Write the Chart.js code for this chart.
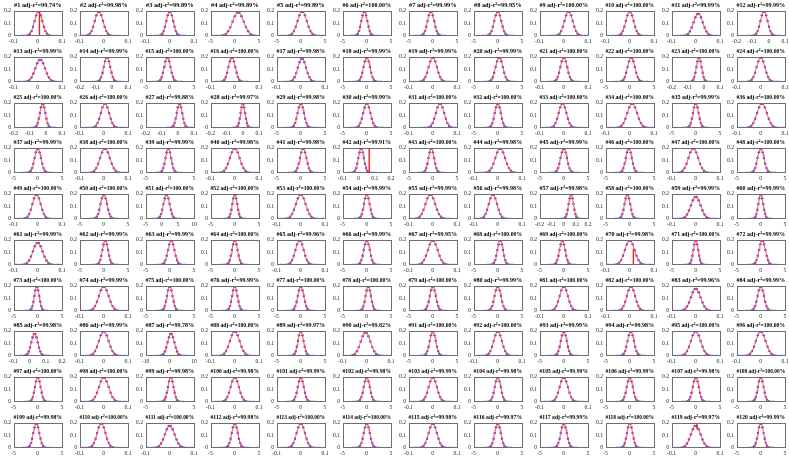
<!DOCTYPE html>
<html>
<head>
<meta charset="utf-8">
<script src="https://cdn.jsdelivr.net/npm/chart.js@4.4.1/dist/chart.umd.min.js"></script>
<style>
  html, body { margin: 0; padding: 0; background: #fff; }
  #wrap { position: relative; width: 789px; height: 458px; overflow: hidden; background: #fff; }
  #wrap canvas { position: absolute; }
</style>
</head>
<body>
<div id="wrap"></div>
<script>
// ---- data ----
const r2Values = [
  "99.74","99.98","99.89","99.89","99.89","100.00","99.99","99.95","100.00","100.00","99.99","99.99",
  "99.99","99.99","100.00","100.00","99.98","99.99","99.99","99.99","100.00","100.00","100.00","100.00",
  "100.00","100.00","99.88","99.97","99.98","99.99","100.00","100.00","100.00","100.00","99.99","100.00",
  "99.99","100.00","99.99","99.98","99.98","99.91","100.00","99.98","99.99","100.00","100.00","100.00",
  "100.00","100.00","100.00","100.00","100.00","99.99","99.99","99.98","99.98","100.00","99.99","99.99",
  "99.99","99.99","99.99","100.00","99.96","99.99","99.95","100.00","100.00","99.98","100.00","99.99",
  "100.00","99.99","100.00","99.99","100.00","100.00","100.00","99.99","100.00","100.00","99.96","99.99",
  "99.98","99.99","99.78","100.00","99.97","99.82","100.00","100.00","99.99","99.98","100.00","100.00",
  "100.00","100.00","99.98","99.98","99.99","99.98","99.99","99.98","99.99","99.99","99.98","100.00",
  "99.98","100.00","100.00","99.98","100.00","100.00","99.98","99.97","99.99","100.00","99.97","99.99"
];
// x-axis ranges: [min, max, tick step]
const xRanges = {
  A: [-0.1, 0.1, 0.1],
  B: [-5, 5, 5],
  C: [-0.2, 0.1, 0.1],
  D: [-0.1, 0.2, 0.1],
  E: [-5, 10, 5],
  F: [-10, 10, 10],
  G: [-0.2, 0.2, 0.1]
};
const rangeCodes = (
  "AAABBBBBAAAC" +
  "ACBAABABABCA" +
  "CACCBBABAABA" +
  "BABABDBABBAB" +
  "ABEBABAAGBAB" +
  "ABBBABABBABB" +
  "BABBBBBBAAAB" +
  "DAFABABABBAA" +
  "BABABBABABBB" +
  "BAABABABBBAB").split("");
// peak centre of each fitted bell (x units)
const centers = [
  0.003,-0.02,0,0.7,0.3,-0.5,-0.4,0,0.02,0,0.01,-0.03,
  0.01,-0.03,-0.5,-0.012,0.005,0,0,0.3,0,0.3,-0.03,0,
  -0.02,0.005,0.01,0,0,0,0.03,0,-0.005,0.01,0,0.005,
  0,0.005,-0.3,0,0.5,0.015,-0.3,0.01,0,-0.2,-0.01,0,
  -0.005,0,1.5,0,0,0,-0.01,-0.02,0.06,-0.5,0,0,
  0,0.3,0.3,0,-0.005,0,0,0.5,-0.3,0,0,0.3,
  -0.2,0,0,0,0,0.3,0,0,0,0.005,0,0,
  0.03,0,0.5,0,0,-0.005,0,0,0,0.2,0,0,
  0,0,0.2,0,0,0,0,0,0,0,0,0,
  -0.3,-0.01,0,0,0,0,0,0,0,0,0,0
];
// spread (x units) of each bell
const spreads = [
  0.016,0.017,0.014,1.15,0.95,0.62,0.68,0.72,0.017,0.016,0.019,0.022,
  0.02,0.02,0.65,0.014,0.017,0.66,0.017,0.74,0.014,0.74,0.016,0.017,
  0.017,0.017,0.017,0.014,0.66,0.74,0.017,0.62,0.016,0.02,0.58,0.02,
  0.66,0.02,0.58,0.02,0.66,0.017,0.58,0.02,0.66,0.62,0.02,0.66,
  0.017,0.66,0.95,0.5,0.02,0.58,0.02,0.017,0.02,0.58,0.02,0.5,
  0.02,0.58,0.66,0.58,0.017,0.62,0.02,0.58,0.58,0.02,0.5,0.66,
  0.5,0.02,0.58,0.55,0.62,0.55,0.62,0.66,0.017,0.017,0.02,0.66,
  0.02,0.02,1.4,0.02,0.58,0.02,0.62,0.017,0.62,0.66,0.02,0.02,
  0.58,0.02,0.58,0.017,0.62,0.62,0.017,0.62,0.017,0.62,0.62,0.58,
  0.62,0.017,0.02,0.62,0.017,0.62,0.017,0.62,0.62,0.58,0.02,0.58
];
// panels whose peak is visibly below 0.2
const lowPeaks = {4:0.19, 11:0.18, 13:0.18, 17:0.19, 59:0.18, 61:0.18, 83:0.18, 85:0.18, 87:0.18, 90:0.19, 111:0.18, 119:0.18};
const defaultPeak = 0.198;
// vertical red marks: panel -> [x, yFrom, yTo]
const vLines = {1:[0.007,0,0.2], 42:[0.065,0,0.2], 70:[0.015,0,0.13], 119:[0.005,0.15,0.2]};
// bell shape: offsets (in spreads) and relative heights
const dotOffsets = [-4.6,-4.2,-3.8,-3.4,-3.0,-2.6,-2.2,-1.8,-1.4,-1.0,-0.6,-0.2,0.2,0.6,1.0,1.4,1.8,2.2,2.6,3.0,3.4,3.8,4.2,4.6];
const dotHeights = [0,0.0001,0.001,0.003,0.011,0.034,0.089,0.198,0.375,0.607,0.835,0.980,0.980,0.835,0.607,0.375,0.198,0.089,0.034,0.011,0.003,0.001,0.0001,0];
const curveOffsets = [-4.75,-4.5,-4.25,-4,-3.75,-3.5,-3.25,-3,-2.75,-2.5,-2.25,-2,-1.75,-1.5,-1.25,-1,-0.75,-0.5,-0.25,0,0.25,0.5,0.75,1,1.25,1.5,1.75,2,2.25,2.5,2.75,3,3.25,3.5,3.75,4,4.25,4.5,4.75];
const curveHeights = [0,0,0.0001,0.0003,0.0009,0.0022,0.0051,0.0111,0.0228,0.0439,0.0796,0.1353,0.2163,0.3247,0.4578,0.6065,0.7548,0.8825,0.9692,1,0.9692,0.8825,0.7548,0.6065,0.4578,0.3247,0.2163,0.1353,0.0796,0.0439,0.0228,0.0111,0.0051,0.0022,0.0009,0.0003,0.0001,0,0];
const yTicks = [0, 0.1, 0.2];

// ---- layout ----
const COLS = 12, ROWS = 10;
const pitchX = 65.75, pitchY = 45.78;
const axLeft = 13.5, axWidth = 48.5, titleH = 11, axHeight = 25;
const canvasW = 74, canvasH = 46;

const boxPlugin = {
  id: 'axbox',
  afterDraw(chart) {
    const a = chart.chartArea, ctx = chart.ctx;
    ctx.save();
    ctx.strokeStyle = '#6e6e6e';
    ctx.lineWidth = 1;
    ctx.strokeRect(Math.round(a.left) + 0.5, Math.round(a.top) + 0.5,
                   Math.round(a.right - a.left) - 1, Math.round(a.bottom - a.top) - 1);
    ctx.restore();
  }
};

const fmt = v => String(Number(Number(v).toFixed(3)));
const wrap = document.getElementById('wrap');

for (let i = 0; i < COLS * ROWS; i++) {
  const r = Math.floor(i / COLS), c = i % COLS;
  const n = i + 1;
  const cv = document.createElement('canvas');
  cv.width = canvasW; cv.height = canvasH;
  cv.style.width = canvasW + 'px'; cv.style.height = canvasH + 'px';
  cv.style.left = Math.round(c * pitchX) + 'px';
  cv.style.top = Math.round(r * pitchY) + 'px';
  wrap.appendChild(cv);

  const [xmin, xmax, xstep] = xRanges[rangeCodes[i]];
  const mu = centers[i], sd = spreads[i];
  const peak = lowPeaks[n] !== undefined ? lowPeaks[n] : defaultPeak;
  const dots = dotOffsets.map((u, k) => ({x: mu + u * sd, y: peak * dotHeights[k]}))
                         .filter(p => p.x >= xmin && p.x <= xmax);
  const curve = curveOffsets.map((u, k) => ({x: mu + u * sd, y: peak * curveHeights[k]}))
                         .filter(p => p.x >= xmin && p.x <= xmax);

  const datasets = [
    {type: 'line', data: curve, borderColor: 'rgba(255,80,80,0.9)', borderWidth: 1.1,
     pointRadius: 0, fill: false, tension: 0, order: 1},
    {type: 'scatter', data: dots, backgroundColor: 'rgba(50,50,255,0.95)', borderWidth: 0,
     pointRadius: 1.2, order: 2}
  ];
  if (vLines[n]) {
    const [vx, y0, y1] = vLines[n];
    datasets.push({type: 'line', data: [{x: vx, y: y0}, {x: vx, y: y1}], borderColor: '#ff1a1a',
                   borderWidth: 1.4, pointRadius: 0, fill: false, order: 0});
  }

  const tickFont = {family: 'Liberation Serif', size: 5.6};
  new Chart(cv, {
    type: 'scatter',
    data: {datasets},
    options: {
      responsive: false, animation: false, events: [],
      layout: {autoPadding: false, padding: {left: 0, right: canvasW - axLeft - axWidth, top: 0, bottom: 0}},
      plugins: {
        legend: {display: false},
        tooltip: {enabled: false},
        title: {
          display: true, text: '#' + n + ' adj-r\u00B2=' + r2Values[i] + '%',
          fullSize: false, color: '#000',
          font: {family: 'Liberation Serif', size: 6.3, weight: 'bold', lineHeight: 1.2},
          padding: {top: 2, bottom: titleH - 2 - 6.3 * 1.2}
        }
      },
      scales: {
        x: {
          type: 'linear', min: xmin, max: xmax,
          grid: {display: false, drawTicks: false}, border: {display: false},
          ticks: {stepSize: xstep, autoSkip: false, maxRotation: 0, minRotation: 0, padding: 2.5,
                  font: tickFont, color: '#222', callback: fmt},
          afterFit(s) { s.height = canvasH - titleH - axHeight; s.paddingLeft = 0; s.paddingRight = 0; }
        },
        y: {
          type: 'linear', min: 0, max: 0.2,
          grid: {display: false, drawTicks: false}, border: {display: false},
          afterBuildTicks(s) { s.ticks = yTicks.map(v => ({value: v})); },
          ticks: {autoSkip: false, padding: 2.5, font: tickFont, color: '#222', callback: fmt},
          afterFit(s) { s.width = axLeft; s.paddingTop = 0; s.paddingBottom = 0; }
        }
      }
    },
    plugins: [boxPlugin]
  });
}
</script>
</body>
</html>
